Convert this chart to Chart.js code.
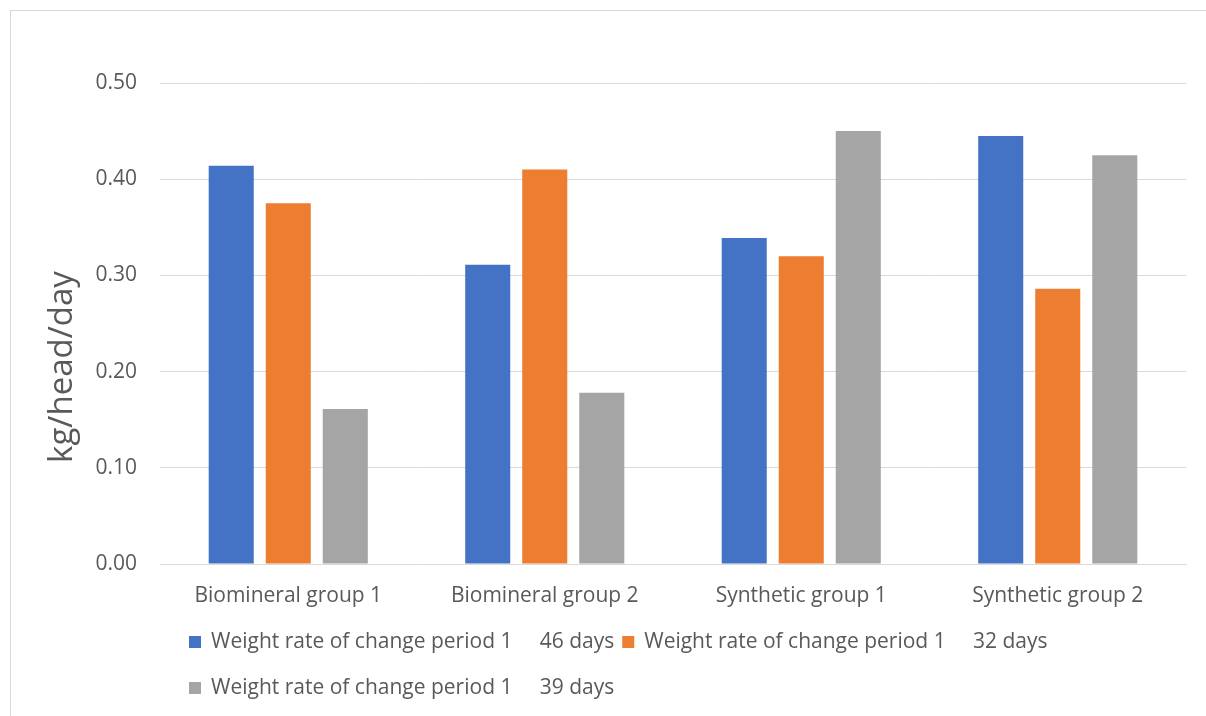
<!DOCTYPE html>
<html>
<head>
<meta charset="utf-8">
<script src="https://cdn.jsdelivr.net/npm/chart.js@4"></script>
<style>
  html, body { margin: 0; padding: 0; background: #fff; }
  canvas { display: block; }
</style>
</head>
<body>
<canvas id="chart" width="1206" height="716"></canvas>
<script>
// Groups on the x axis
const categories = ['Biomineral group 1', 'Biomineral group 2', 'Synthetic group 1', 'Synthetic group 2'];

// Daily weight gain (kg/head/day) per trial period
const period46Days = [0.414, 0.311, 0.339, 0.445];
const period32Days = [0.375, 0.410, 0.320, 0.286];
const period39Days = [0.161, 0.178, 0.450, 0.425];

const seriesLabels = [
  'Weight rate of change period 1     46 days',
  'Weight rate of change period 1     32 days',
  'Weight rate of change period 1     39 days'
];
const seriesColors = ['#4472C4', '#ED7D31', '#A5A5A5'];

const yAxisTitle = 'kg/head/day';
const yMin = 0, yMax = 0.5, yStep = 0.1;

const FONT = '"Open Sans", "Noto Sans", sans-serif';
const TEXT = '#595959';
const GRID = '#d9d9d9';

// Outer frame of the chart object
const framePlugin = {
  id: 'frame',
  beforeDraw(chart) {
    const ctx = chart.ctx;
    ctx.save();
    ctx.fillStyle = '#fff';
    ctx.fillRect(0, 0, chart.width, chart.height);
    ctx.strokeStyle = GRID;
    ctx.lineWidth = 1;
    ctx.strokeRect(10.5, 10.5, chart.width + 10, chart.height + 10);
    ctx.restore();
  }
};

// Rotated y-axis title
const yTitlePlugin = {
  id: 'yTitle',
  afterDraw(chart) {
    const ctx = chart.ctx;
    ctx.save();
    ctx.translate(63, 367);
    ctx.rotate(-Math.PI / 2);
    ctx.font = '33px ' + FONT;
    ctx.fillStyle = TEXT;
    ctx.textAlign = 'center';
    ctx.textBaseline = 'middle';
    ctx.fillText(yAxisTitle, 0, 0);
    ctx.restore();
  }
};

// Legend under the plot, wrapping into rows from the left
const legendPlugin = {
  id: 'sideLegend',
  afterDraw(chart) {
    const ctx = chart.ctx;
    const startX = 189, rowY = [642, 688], maxRight = 1120;
    const box = 12, textGap = 10, itemGap = 8;
    ctx.save();
    ctx.font = '21px ' + FONT;
    ctx.textBaseline = 'middle';
    ctx.textAlign = 'left';
    let x = startX, row = 0;
    chart.data.datasets.forEach((ds) => {
      const w = box + textGap + ctx.measureText(ds.label).width;
      if (x + w > maxRight && x > startX) { row++; x = startX; }
      const y = rowY[row];
      ctx.fillStyle = ds.backgroundColor;
      ctx.fillRect(x, y - box / 2, box, box);
      ctx.fillStyle = TEXT;
      ctx.fillText(ds.label, x + box + textGap, y);
      x += w + itemGap;
    });
    ctx.restore();
  }
};

const datasets = [period46Days, period32Days, period39Days].map((values, i) => ({
  label: seriesLabels[i],
  data: values,
  backgroundColor: seriesColors[i],
  borderWidth: 0,
  categoryPercentage: 0.667,
  barPercentage: 0.79
}));

new Chart(document.getElementById('chart'), {
  type: 'bar',
  data: { labels: categories, datasets },
  options: {
    responsive: false,
    animation: false,
    devicePixelRatio: 1,
    layout: { padding: { top: 83, right: 20, left: 0, bottom: 0 } },
    plugins: { legend: { display: false }, tooltip: { enabled: false } },
    scales: {
      x: {
        grid: { display: false, drawTicks: false },
        border: { color: GRID, width: 1 },
        ticks: { color: TEXT, font: { family: FONT, size: 21 }, padding: 19, maxRotation: 0 },
        afterFit(scale) { scale.height = 152; }
      },
      y: {
        min: yMin, max: yMax,
        grid: { color: GRID, lineWidth: 1, drawTicks: false },
        border: { display: false },
        ticks: {
          stepSize: yStep,
          color: TEXT,
          font: { family: FONT, size: 21 },
          padding: 23,
          callback: (v) => v.toFixed(2)
        },
        afterFit(scale) { scale.width = 160; }
      }
    }
  },
  plugins: [framePlugin, yTitlePlugin, legendPlugin]
});
</script>
</body>
</html>
